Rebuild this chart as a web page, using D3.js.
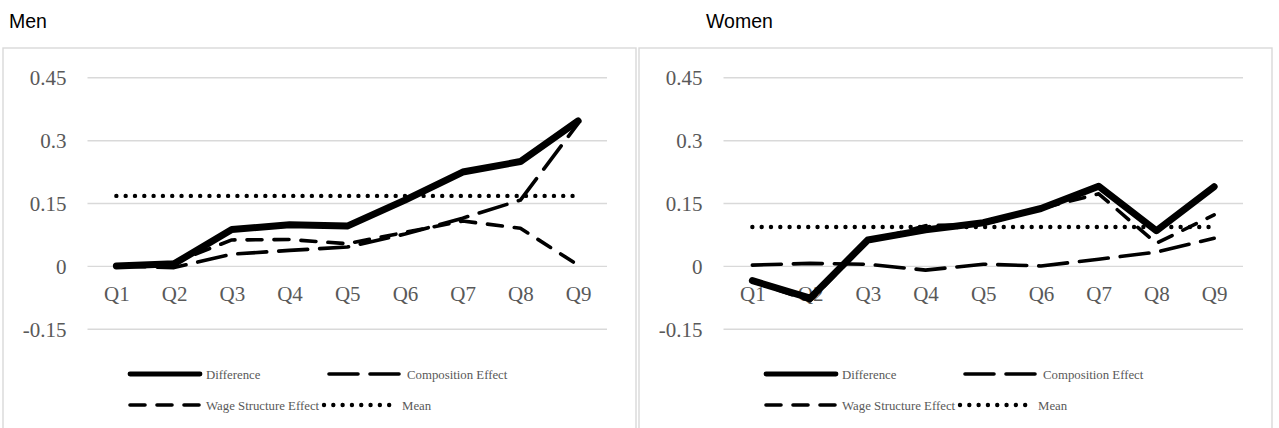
<!DOCTYPE html>
<html><head><meta charset="utf-8">
<script src="https://cdn.jsdelivr.net/npm/d3@7"></script>
<style>html,body{margin:0;padding:0;background:#fff;}svg{display:block;}</style>
</head><body>
<script>
const categories = ["Q1","Q2","Q3","Q4","Q5","Q6","Q7","Q8","Q9"];
const yTicks = [-0.15, 0, 0.15, 0.3, 0.45];
const yTickLabels = ["-0.15","0","0.15","0.3","0.45"];
const seriesNames = ["Difference","Composition Effect","Wage Structure Effect","Mean"];
const panelTitles = ["Men","Women"];

const menDifference  = [0.000, 0.005, 0.087, 0.098, 0.095, 0.157, 0.224, 0.249, 0.346];
const menComposition = [0.000, -0.004, 0.028, 0.037, 0.045, 0.076, 0.114, 0.157, 0.340];
const menWage        = [0.000, 0.008, 0.062, 0.063, 0.053, 0.080, 0.107, 0.090, 0.002];
const menMean        = [0.167, 0.167, 0.167, 0.167, 0.167, 0.167, 0.167, 0.167, 0.167];

const womenDifference  = [-0.035, -0.077, 0.062, 0.086, 0.103, 0.137, 0.190, 0.084, 0.189];
const womenComposition = [0.002, 0.006, 0.004, -0.010, 0.004, 0.000, 0.016, 0.033, 0.066];
const womenWage        = [-0.037, -0.083, 0.058, 0.096, 0.099, 0.137, 0.172, 0.054, 0.122];
const womenMean        = [0.093, 0.093, 0.093, 0.093, 0.093, 0.093, 0.093, 0.093, 0.093];

const W = 1279, H = 428;
const svg = d3.select("body").append("svg").attr("width", W).attr("height", H);

const styles = [
  {w: 7, dash: null},
  {w: 3.6, dash: "29,12"},
  {w: 3.6, dash: "15,12"},
  {w: 4.4, dash: "0.01,9.3"}
];

const panels = [
  {x: 3, titleX: 9, data: [menDifference, menComposition, menWage, menMean]},
  {x: 639, titleX: 706, data: [womenDifference, womenComposition, womenWage, womenMean]}
];

const GRAY = "#d9d9d9", TXT = "#595959";
const serif = "'Liberation Serif', 'Times New Roman', serif";

panels.forEach((p, pi) => {
  const g = svg.append("g");
  svg.append("text").attr("x", p.titleX).attr("y", 28)
    .attr("font-family", "'Liberation Sans', Arial, sans-serif")
    .attr("font-size", 19.5).attr("fill", "#000").text(panelTitles[pi]);
  g.append("rect").attr("x", p.x).attr("y", 48).attr("width", 633).attr("height", 420)
    .attr("fill", "none").attr("stroke", GRAY).attr("stroke-width", 1.4);

  const gx0 = p.x + 84.5, gx1 = p.x + 604;
  const x = d3.scalePoint().domain(categories).range([gx0, gx1]).padding(0.5);
  const y = d3.scaleLinear().domain([-0.15, 0.45]).range([328.8, 77.3]);

  const ya = g.append("g").attr("transform", `translate(${gx0},0)`)
    .call(d3.axisLeft(y).tickValues(yTicks).tickFormat((d, i) => yTickLabels[i])
      .tickSize(-(gx1 - gx0)).tickPadding(21));
  ya.select(".domain").remove();
  ya.selectAll("line").attr("stroke", GRAY).attr("stroke-width", 1.4);
  ya.selectAll("text").attr("font-family", serif).attr("font-size", 21).attr("fill", TXT).attr("dy", "0.35em");

  const xa = g.append("g").attr("transform", `translate(0,${y(0)})`)
    .call(d3.axisBottom(x).tickSize(0).tickPadding(20));
  xa.select(".domain").remove();
  xa.selectAll("text").attr("font-family", serif).attr("font-size", 21).attr("fill", TXT);

  const line = d3.line().x((d, i) => x(categories[i])).y(d => y(d));
  p.data.forEach((vals, si) => {
    const st = styles[si];
    g.append("path").datum(vals).attr("d", line)
      .attr("fill", "none").attr("stroke", "#000").attr("stroke-width", st.w)
      .attr("stroke-linecap", "round").attr("stroke-linejoin", "round")
      .attr("stroke-dasharray", st.dash);
  });

  const leg = [
    {dx: 127, row: 374, len: 70},
    {dx: 326, row: 374, len: 72},
    {dx: 127, row: 405, len: 70},
    {dx: 321, row: 405, len: 72}
  ];
  leg.forEach((L, si) => {
    const st = styles[si];
    const lx = p.x + L.dx;
    g.append("line").attr("x1", lx).attr("x2", lx + L.len).attr("y1", L.row).attr("y2", L.row)
      .attr("stroke", "#000").attr("stroke-width", si === 0 ? 4.8 : st.w)
      .attr("stroke-linecap", "round").attr("stroke-dasharray", st.dash);
    g.append("text").attr("x", lx + L.len + 6).attr("y", L.row + 4.5)
      .attr("font-family", serif).attr("font-size", 12.8).attr("fill", TXT).text(seriesNames[si]);
  });
});
</script>
</body></html>
